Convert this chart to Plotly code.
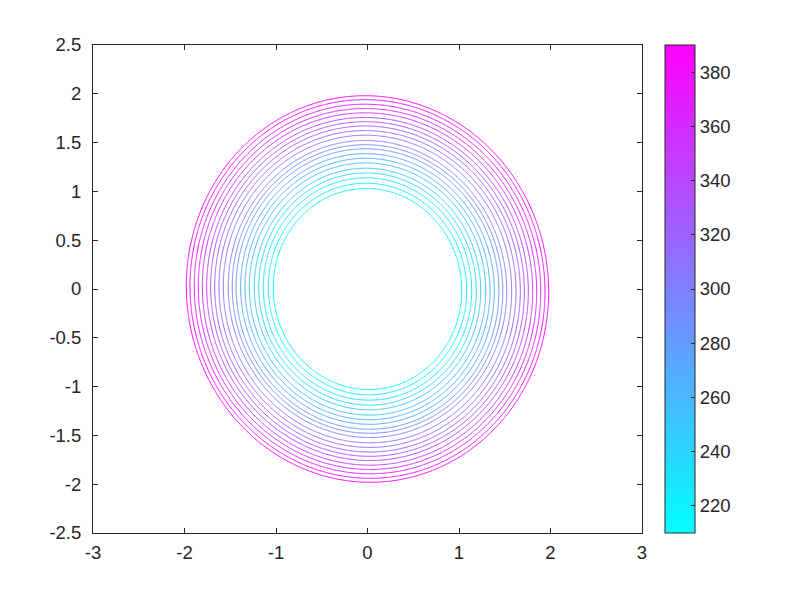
import numpy as np
import plotly.graph_objects as go

# contour levels and ring radii (read along the +x axis)
levels = [210, 219, 228, 237, 246, 255, 264, 273, 282, 291, 300,
          309, 318, 327, 336, 345, 354, 363, 372, 381, 390]
radii = [1.030, 1.084, 1.139, 1.189, 1.237, 1.292, 1.339, 1.386, 1.437, 1.478, 1.521,
         1.576, 1.623, 1.670, 1.714, 1.757, 1.805, 1.849, 1.893, 1.940, 1.980]

x_ticks = [-3, -2, -1, 0, 1, 2, 3]
y_ticks = [-2.5, -2, -1.5, -1, -0.5, 0, 0.5, 1, 1.5, 2, 2.5]
cbar_ticks = [220, 240, 260, 280, 300, 320, 340, 360, 380]

cool = [[0, 'rgb(0,255,255)'], [1, 'rgb(255,0,255)']]
ink = '#262626'
fnt = dict(family='Liberation Sans, Arial, sans-serif', size=18.5, color=ink)


def lab(v):
    # ascii hyphen like matlab
    return '%g' % v


# grid with radius-based field, slight skew along the diagonals
g = np.linspace(-2.3, 2.3, 461)
X, Y = np.meshgrid(g, g)
R = np.sqrt(X**2 + Y**2 + 0.03 * X * Y)
Z = np.interp(R, radii, levels)
lo_slope = (levels[1] - levels[0]) / (radii[1] - radii[0])
hi_slope = (levels[-1] - levels[-2]) / (radii[-1] - radii[-2])
Z = np.where(R < radii[0], levels[0] + (R - radii[0]) * lo_slope, Z)
Z = np.where(R > radii[-1], levels[-1] + (R - radii[-1]) * hi_slope, Z)

fig = go.Figure()
fig.add_trace(go.Contour(
    x=g, y=g, z=Z,
    contours=dict(coloring='lines', start=levels[0], end=levels[-1],
                  size=levels[1] - levels[0]),
    colorscale=cool, zmin=levels[0], zmax=levels[-1],
    line=dict(width=1), showscale=False, hoverinfo='skip'))

# continuous colorbar
fig.add_trace(go.Scatter(
    x=[None, None], y=[None, None], mode='markers',
    marker=dict(color=[levels[0], levels[-1]], cmin=levels[0], cmax=levels[-1],
                colorscale=cool, showscale=True,
                colorbar=dict(x=1.042, xanchor='left', xpad=0, y=0.5, yanchor='middle',
                              len=1, lenmode='fraction', ypad=0, thickness=30,
                              outlinewidth=1, outlinecolor=ink,
                              tickvals=cbar_ticks, ticktext=[lab(v) for v in cbar_ticks],
                              ticks='inside', ticklen=4, tickcolor=ink,
                              tickfont=fnt)),
    showlegend=False, hoverinfo='skip'))

axis_style = dict(showgrid=False, zeroline=False, showline=True, linecolor=ink,
                  linewidth=1, mirror='ticks', ticks='inside', ticklen=5,
                  tickcolor=ink, tickfont=fnt)
fig.update_xaxes(range=[-3, 3], tickvals=x_ticks, ticktext=[lab(v) for v in x_ticks],
                 ticklabelstandoff=3, **axis_style)
fig.update_yaxes(range=[-2.5, 2.5], tickvals=y_ticks, ticktext=[lab(v) for v in y_ticks],
                 ticklabelstandoff=7, **axis_style)

fig.update_layout(width=800, height=600, template='plotly_white',
                  plot_bgcolor='white', paper_bgcolor='white',
                  margin=dict(l=85, r=166, t=37, b=75),
                  showlegend=False, font=fnt)

fig.write_html("out.html")
